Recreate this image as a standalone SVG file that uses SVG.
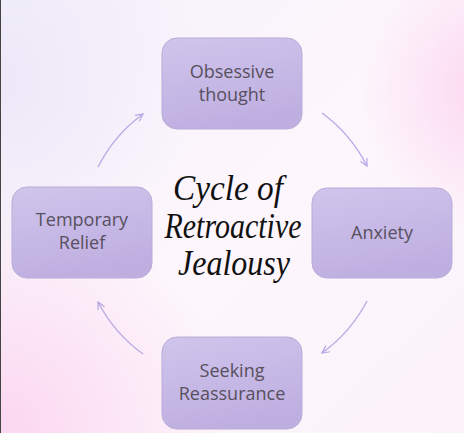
<svg xmlns="http://www.w3.org/2000/svg" width="464" height="433" viewBox="0 0 464 433">
<defs>
<linearGradient id="bg" x1="0" y1="0" x2="1" y2="1">
<stop offset="0" stop-color="#f5f2fb"/>
<stop offset="0.5" stop-color="#fdf6fc"/>
<stop offset="1" stop-color="#fcf3fa"/>
</linearGradient>
<radialGradient id="pinkBL" cx="0" cy="433" r="230" gradientUnits="userSpaceOnUse">
<stop offset="0" stop-color="#fbd6f0" stop-opacity="1"/>
<stop offset="1" stop-color="#fbd6f0" stop-opacity="0"/>
</radialGradient>
<radialGradient id="pinkR" cx="500" cy="90" r="140" gradientUnits="userSpaceOnUse">
<stop offset="0" stop-color="#fbd4ef" stop-opacity="1"/>
<stop offset="1" stop-color="#fbd4ef" stop-opacity="0"/>
</radialGradient>
<radialGradient id="lavTL" cx="0" cy="80" r="200" gradientUnits="userSpaceOnUse">
<stop offset="0" stop-color="#ece8f8" stop-opacity="1"/>
<stop offset="1" stop-color="#ece8f8" stop-opacity="0"/>
</radialGradient>
<linearGradient id="box" x1="0" y1="0" x2="0.3" y2="1">
<stop offset="0" stop-color="#d0c5ec"/>
<stop offset="1" stop-color="#bfafe1"/>
</linearGradient>
<marker id="ah" viewBox="0 0 10 10" refX="9" refY="5" markerWidth="9" markerHeight="9" markerUnits="userSpaceOnUse" orient="auto">
<path d="M1,1 L9,5 L1,9" fill="none" stroke="#b3a5e2" stroke-width="1.3"/>
</marker>
<style>
.node rect{fill:url(#box);stroke:#b9acd8;stroke-width:1}
.node text{font-family:"Open Sans","Liberation Sans",sans-serif;font-size:18px;fill:#57505e;text-anchor:middle}
.conn path{fill:none;stroke:#b9abe6;stroke-width:1.4;marker-end:url(#ah)}
.title{font-family:"Liberation Serif","DejaVu Serif",serif;font-style:italic;font-size:36px;fill:#111;text-anchor:middle}
</style>
</defs>
<rect width="464" height="433" fill="url(#bg)"/>
<rect width="464" height="433" fill="url(#lavTL)"/>
<rect width="464" height="433" fill="url(#pinkBL)"/>
<rect width="464" height="433" fill="url(#pinkR)"/>
<line x1="0.5" y1="0" x2="0.5" y2="433" stroke="#444" stroke-width="1"/>
<g class="conn">
<path d="M98,167 A149,149 0 0 1 143,114"/>
<path d="M322,113 A149,149 0 0 1 367,166"/>
<path d="M367,301 A149,149 0 0 1 322,353"/>
<path d="M143,354 A149,149 0 0 1 98,302"/>
</g>
<g id="obsessive" class="node">
<rect x="162" y="38" width="140" height="91" rx="15"/>
<text x="232" y="78">Obsessive</text>
<text x="232" y="101">thought</text>
</g>
<g id="anxiety" class="node">
<rect x="312" y="188" width="140" height="90" rx="15"/>
<text x="382" y="239">Anxiety</text>
</g>
<g id="seeking" class="node">
<rect x="162" y="337" width="140" height="92" rx="15"/>
<text x="232" y="377">Seeking</text>
<text x="232" y="400">Reassurance</text>
</g>
<g id="relief" class="node">
<rect x="12" y="187" width="140" height="91" rx="15"/>
<text x="82" y="226">Temporary</text>
<text x="82" y="249">Relief</text>
</g>
<g id="title">
<text class="title" x="228" y="200" textLength="110" lengthAdjust="spacingAndGlyphs">Cycle of</text>
<text class="title" x="233" y="238" textLength="137" lengthAdjust="spacingAndGlyphs">Retroactive</text>
<text class="title" x="234" y="275" textLength="112" lengthAdjust="spacingAndGlyphs">Jealousy</text>
</g>
</svg>
